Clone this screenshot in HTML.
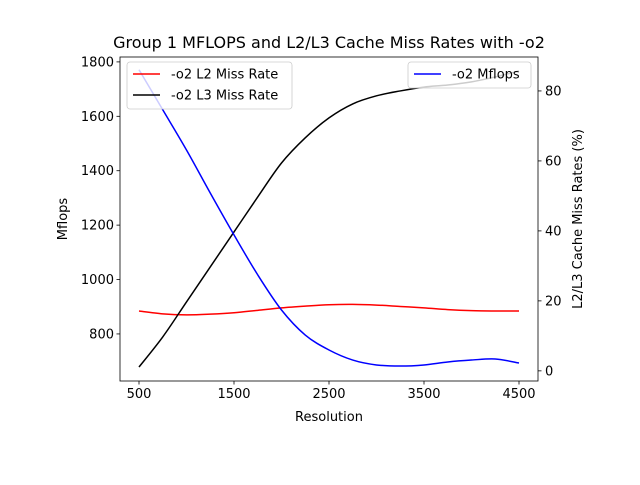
<!DOCTYPE html>
<html><head><meta charset="utf-8"><style>
body{margin:0;background:#fff}
svg text{font-family:"DejaVu Sans","Liberation Sans",sans-serif;fill:#000}
</style></head><body>
<svg id="chart" width="640" height="480" viewBox="0 0 640 480" xmlns="http://www.w3.org/2000/svg">
<rect width="640" height="480" fill="#fff"/>
<g id="plot"></g>
</svg>
<script>
const resolutions=[500,750,1000,1250,1500,1750,2000,2250,2500,2750,3000,3250,3500,3750,4000,4250,4500];
const mflops=[1771,1624,1476,1318,1164,1017,888,796,741,704,686,682,686,697,704,708,693];
const l2Miss=[17.1,16.3,16.0,16.2,16.6,17.3,18.0,18.5,18.9,19.0,18.8,18.4,18.0,17.5,17.2,17.1,17.1];
const l3Miss=[1.1,9.7,19.7,29.7,39.7,49.7,59.4,66.6,72.3,76.3,78.6,80,81.1,81.7,82.6,84,85.7];
const xTicks=[500,1500,2500,3500,4500];
const yLeftTicks=[800,1000,1200,1400,1600,1800];
const yRightTicks=[0,20,40,60,80];

const L=120,R=538,T=57,B=381;
const sx=v=>L+(v-300)/4400*(R-L);
const syL=v=>B-(v-627)/(1818-627)*(B-T);
const syR=v=>B-(v+2.9)/(89.7+2.9)*(B-T);
const NS='http://www.w3.org/2000/svg';
const g=document.getElementById('plot');
function el(tag,attrs,parent){const e=document.createElementNS(NS,tag);for(const k in attrs)e.setAttribute(k,attrs[k]);(parent||g).appendChild(e);return e;}
function smooth(xs,ys){
  const p=xs.map((x,i)=>[x,ys[i]]);
  let d='M'+p[0][0]+','+p[0][1];
  for(let i=0;i<p.length-1;i++){
    const p0=p[Math.max(i-1,0)],p1=p[i],p2=p[i+1],p3=p[Math.min(i+2,p.length-1)];
    const c1=[p1[0]+(p2[0]-p0[0])/6,p1[1]+(p2[1]-p0[1])/6];
    const c2=[p2[0]-(p3[0]-p1[0])/6,p2[1]-(p3[1]-p1[1])/6];
    d+=' C'+c1+' '+c2+' '+p2;
  }
  return d;
}
const xs=resolutions.map(sx);
let s=el('path',{d:smooth(xs,l2Miss.map(syR)),fill:'none',stroke:'#ff0000','stroke-width':1.5});


s=el('path',{d:smooth(xs,l3Miss.map(syR)),fill:'none',stroke:'#000','stroke-width':1.5});


s=el('path',{d:smooth(xs,mflops.map(syL)),fill:'none',stroke:'#0000ff','stroke-width':1.5});



const frame=el('rect',{x:L,y:T,width:R-L,height:B-T,fill:'none',stroke:'#000','stroke-width':0.8});


xTicks.forEach(v=>{
  el('line',{x1:sx(v),x2:sx(v),y1:B,y2:B+3.5,stroke:'#000','stroke-width':0.8});
  const t=el('text',{x:sx(v),y:B+17,'font-size':13,'text-anchor':'middle'});t.textContent=v;
  
  
});
yLeftTicks.forEach(v=>{
  el('line',{x1:L,x2:L-3.5,y1:syL(v),y2:syL(v),stroke:'#000','stroke-width':0.8});
  const t=el('text',{x:L-6,y:syL(v)+4.5,'font-size':13,'text-anchor':'end'});t.textContent=v;
  
  
});
yRightTicks.forEach(v=>{
  el('line',{x1:R,x2:R+3.5,y1:syR(v),y2:syR(v),stroke:'#000','stroke-width':0.8});
  const t=el('text',{x:R+7,y:syR(v)+4.5,'font-size':13,'text-anchor':'start'});t.textContent=v;
  
  
});
let t=el('text',{x:329,y:48,'font-size':16,'text-anchor':'middle'});t.textContent='Group 1 MFLOPS and L2/L3 Cache Miss Rates with -o2';


t=el('text',{x:329,y:421,'font-size':13,'text-anchor':'middle'});t.textContent='Resolution';


t=el('text',{x:0,y:0,'font-size':13,'text-anchor':'middle',transform:'translate(67,219) rotate(-90)'});t.textContent='Mflops';


t=el('text',{x:0,y:0,'font-size':13,'text-anchor':'middle',transform:'translate(582,219) rotate(-90)'});t.textContent='L2/L3 Cache Miss Rates (%)';



function legend(x,y,w,entries,name){
  const lg=el('g',{});
  
  
  el('rect',{x:x,y:y,width:w,height:entries.length*21+5,rx:3,fill:'#fff','fill-opacity':0.8,stroke:'#ccc','stroke-width':0.8},lg);
  entries.forEach((e,i)=>{
    const cy=y+12+i*21;
    el('line',{x1:x+6,x2:x+33,y1:cy,y2:cy,stroke:e[1],'stroke-width':1.5},lg);
    const tt=el('text',{x:x+44,y:cy+4.5,'font-size':13},lg);tt.textContent=e[0];
    
    
  });
}
legend(127,62,165,[['-o2 L2 Miss Rate','#ff0000'],['-o2 L3 Miss Rate','#000']],'legend-miss-rates');
legend(408,62,123,[['-o2 Mflops','#0000ff']],'legend-mflops');
</script>
</body></html>
